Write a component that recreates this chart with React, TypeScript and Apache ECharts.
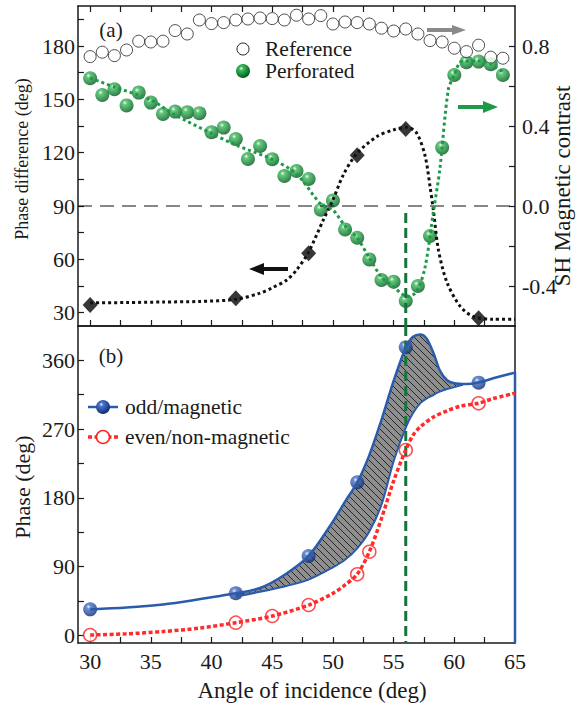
import React, { useEffect, useRef } from 'react';
import * as echarts from 'echarts';

const FONT = '"Liberation Serif", "Times New Roman", "DejaVu Serif", serif';
const INK = '#1a1a1a';

// ---------- panel (a) ----------
const angles = [30, 31, 32, 33, 34, 35, 36, 37, 38, 39, 40, 41, 42, 43, 44, 45, 46, 47, 48, 49, 50, 51, 52, 53, 54, 55, 56, 57, 58, 59, 60, 61, 62, 63, 64];
const referenceContrast = [0.747, 0.769, 0.752, 0.78, 0.824, 0.82, 0.824, 0.877, 0.86, 0.93, 0.912, 0.917, 0.93, 0.935, 0.94, 0.937, 0.93, 0.954, 0.935, 0.952, 0.91, 0.92, 0.917, 0.91, 0.889, 0.875, 0.885, 0.86, 0.827, 0.82, 0.789, 0.772, 0.804, 0.744, 0.739];
const perforatedContrast = [0.639, 0.555, 0.584, 0.503, 0.567, 0.517, 0.46, 0.472, 0.469, 0.464, 0.369, 0.392, 0.335, 0.235, 0.3, 0.234, 0.15, 0.175, 0.135, -0.019, 0.028, -0.117, -0.159, -0.267, -0.37, -0.379, -0.475, -0.4, -0.15, 0.292, 0.655, 0.719, 0.722, 0.709, 0.655];
const greenFitX = [30, 32, 35, 37, 40, 42, 45, 47, 49, 50, 51, 52, 53, 54, 55, 55.7, 56.1, 56.9, 57.6, 58.3, 58.8, 59.5, 60, 60.6, 62, 63, 64];
const greenFitY = [0.64, 0.595, 0.53, 0.455, 0.363, 0.305, 0.233, 0.16, 0.01, -0.02, -0.1, -0.159, -0.26, -0.355, -0.405, -0.44, -0.453, -0.428, -0.303, -0.02, 0.18, 0.58, 0.655, 0.722, 0.725, 0.71, 0.67];

const diamondAngles = [30, 42, 48, 52, 56, 62];
const phaseDifference = [34.3, 38.1, 63.4, 118.5, 133.3, 26.8];
const blackFitX = [30, 33, 36, 39, 42, 44, 45, 46.2, 47, 47.95, 49.2, 50, 50.85, 51.95, 53.6, 55, 56.1, 56.9, 57.6, 58, 58.27, 58.7, 59.4, 60.5, 61.6, 63.2, 65];
const blackFitY = [35.5, 35.7, 36, 36.3, 37.5, 41, 44, 48.4, 54, 63.5, 82, 93.4, 107.4, 119.3, 129, 132.8, 134.3, 131, 118, 101, 88, 65, 47, 33.4, 27.7, 26.3, 26.3];

// ---------- panel (b) ----------
const magAngles = [30, 42, 48, 52, 56, 62];
const oddPhase = [34.1, 55.1, 103.9, 200.4, 377.1, 330.8];
const evenAngles = [30, 42, 45, 48, 52, 53, 56, 62];
const evenPhase = [0.5, 16.6, 25.3, 39.7, 79.9, 109.5, 242.6, 303.8];

const oddCurveX = [30, 33, 36, 38.5, 42, 44, 46, 48, 50, 51, 52, 53, 54, 55, 56, 56.6, 57.2, 57.7, 58.3, 58.8, 59.4, 60, 61, 62, 63.2, 65];
const oddCurveY = [34, 36.5, 40.5, 46, 55, 62, 79, 104, 149, 175, 200, 236, 282, 333, 377, 391, 394, 389, 369, 347, 334, 330, 329, 331, 336.5, 344];
const hatchX = [42, 44, 46, 48, 50, 51, 52, 53, 54, 55, 56, 56.6, 57.2, 57.7, 58.3, 58.8, 59.4, 60, 60.7];
const hatchUpper = [55, 62, 79, 104, 149, 175, 200, 236, 282, 333, 377, 391, 394, 389, 369, 347, 334, 330, 329];
const hatchLower = [51, 57, 64, 73, 89, 99, 114, 136, 171, 228, 272, 291, 304, 310, 315, 319, 322.5, 325, 328];
const evenCurveX = [30, 33, 36, 39, 42, 45, 48, 50, 51, 52, 53, 54, 55, 56, 56.6, 57.2, 58.3, 59.4, 60.5, 62, 63.2, 65];
const evenCurveY = [0.5, 2, 5, 9.5, 16.6, 25.3, 39.7, 55, 66, 80, 109.5, 153, 202, 243, 262, 273, 286, 294, 300, 304, 310, 317];

// ---------- ticks ----------
const xTicks = [30, 32.5, 35, 37.5, 40, 42.5, 45, 47.5, 50, 52.5, 55, 57.5, 60, 62.5];
const xLabels = [30, 35, 40, 45, 50, 55, 60, 65];
const phaseDiffTicks = [30, 45, 60, 75, 90, 105, 120, 135, 150, 165, 180, 195];
const phaseDiffLabels = [30, 60, 90, 120, 150, 180];
const contrastTicks = [-0.4, -0.2, 0, 0.2, 0.4, 0.6, 0.8];
const contrastLabels = [-0.4, 0, 0.4, 0.8];
const phaseTicks = [0, 45, 90, 135, 180, 225, 270, 315, 360];
const phaseLabels = [0, 90, 180, 270, 360];

const zip = (xs: number[], ys: number[]) => xs.map((x, i) => [x, ys[i]]);

const greenBall = () =>
  new echarts.graphic.RadialGradient(0.38, 0.32, 0.68, [
    { offset: 0, color: '#f2fff2' },
    { offset: 0.22, color: '#3fb85c' },
    { offset: 0.7, color: '#148535' },
    { offset: 1, color: '#085520' },
  ]);
const blueBall = () =>
  new echarts.graphic.RadialGradient(0.38, 0.32, 0.68, [
    { offset: 0, color: '#eef2ff' },
    { offset: 0.22, color: '#4a72c8' },
    { offset: 0.7, color: '#24499a' },
    { offset: 1, color: '#122b66' },
  ]);

export default function App() {
  const ref = useRef<HTMLDivElement>(null);
  useEffect(() => {
    const chart = echarts.init(ref.current!, null, { renderer: 'svg' });

    const c = document.createElement('canvas');
    c.width = 7;
    c.height = 7;
    const g = c.getContext('2d')!;
    g.fillStyle = '#8e8e8e';
    g.fillRect(0, 0, 7, 7);
    g.strokeStyle = '#1c1c1c';
    g.lineWidth = 0.9;
    g.beginPath();
    g.moveTo(-1, -1);
    g.lineTo(8, 8);
    g.moveTo(6, -1);
    g.lineTo(8, 1);
    g.moveTo(-1, 6);
    g.lineTo(1, 8);
    g.stroke();
    const hatchPattern: any = { image: c, repeat: 'repeat', imageWidth: 7, imageHeight: 7 };

    const axisLine = { show: true, onZero: false, lineStyle: { color: INK, width: 1.5 } };
    const ticks = (vals: number[]) => ({
      show: true,
      inside: true,
      length: 6,
      lineStyle: { color: INK, width: 1.2 },
      customValues: vals,
    });
    const labelStyle = { fontFamily: FONT, fontSize: 22, color: INK };

    const option: any = {
      animation: false,
      backgroundColor: '#ffffff',
      grid: [
        { left: 78, top: 6, width: 437, height: 320 },
        { left: 78, top: 326, width: 437, height: 317 },
      ],
      xAxis: [
        { gridIndex: 0, type: 'value', min: 29, max: 65, position: 'bottom', axisLine, axisTick: ticks(xTicks), axisLabel: { show: false }, splitLine: { show: false } },
        { gridIndex: 0, type: 'value', min: 29, max: 65, position: 'top', axisLine, axisTick: ticks(xTicks), axisLabel: { show: false }, splitLine: { show: false } },
        { gridIndex: 1, type: 'value', min: 29, max: 65, position: 'bottom', axisLine, axisTick: ticks(xTicks), axisLabel: { ...labelStyle, margin: 7, customValues: xLabels }, splitLine: { show: false } },
        { gridIndex: 1, type: 'value', min: 29, max: 65, position: 'top', axisLine, axisTick: { show: false }, axisLabel: { show: false }, splitLine: { show: false } },
      ],
      yAxis: [
        { gridIndex: 0, type: 'value', min: 22.5, max: 202.5, position: 'left', axisLine, axisTick: ticks(phaseDiffTicks), axisLabel: { ...labelStyle, margin: 3, customValues: phaseDiffLabels }, splitLine: { show: false } },
        { gridIndex: 0, type: 'value', min: -0.6, max: 1.0, position: 'right', axisLine, axisTick: ticks(contrastTicks), axisLabel: { ...labelStyle, margin: 7, customValues: contrastLabels, formatter: (v: number) => v.toFixed(1) }, splitLine: { show: false } },
        { gridIndex: 1, type: 'value', min: -10, max: 405, position: 'left', axisLine, axisTick: ticks(phaseTicks), axisLabel: { ...labelStyle, margin: 3, customValues: phaseLabels }, splitLine: { show: false } },
        { gridIndex: 1, type: 'value', min: -10, max: 405, position: 'right', axisLine, axisTick: { show: false }, axisLabel: { show: false }, splitLine: { show: false } },
      ],
      series: [
        // ---- panel (a)
        {
          type: 'line', xAxisIndex: 0, yAxisIndex: 0, symbol: 'none', silent: true,
          data: [[29, 90], [65, 90]],
          lineStyle: { color: '#111', width: 1.2, type: [14, 8] },
        },
        {
          type: 'line', xAxisIndex: 0, yAxisIndex: 0, symbol: 'none', silent: true,
          data: [[56, 86], [56, 22.5]],
          lineStyle: { color: '#16743a', width: 3, type: [10, 5] },
        },
        {
          type: 'line', xAxisIndex: 0, yAxisIndex: 0, symbol: 'none', smooth: 0.3, silent: true,
          data: zip(blackFitX, blackFitY),
          lineStyle: { color: '#111', width: 3, type: [3, 3] },
        },
        {
          type: 'line', xAxisIndex: 0, yAxisIndex: 1, symbol: 'none', smooth: 0.3, silent: true,
          data: zip(greenFitX, greenFitY),
          lineStyle: { color: '#1c9a48', width: 3, type: [3, 3] },
        },
        {
          name: 'Phase difference', type: 'scatter', xAxisIndex: 0, yAxisIndex: 0,
          symbol: 'diamond', symbolSize: [15, 16],
          itemStyle: { color: '#050505' },
          data: zip(diamondAngles, phaseDifference),
        },
        {
          name: 'Perforated', type: 'scatter', xAxisIndex: 0, yAxisIndex: 1,
          symbol: 'circle', symbolSize: 14,
          itemStyle: { color: greenBall() },
          data: zip(angles, perforatedContrast),
        },
        {
          name: 'Reference', type: 'scatter', xAxisIndex: 0, yAxisIndex: 1,
          symbol: 'circle', symbolSize: 12,
          itemStyle: { color: '#ffffff', borderColor: '#222', borderWidth: 1 },
          data: zip(angles, referenceContrast),
        },
        // ---- panel (b)
        {
          type: 'custom', xAxisIndex: 2, yAxisIndex: 2, silent: true, z: 1,
          data: [[50, 100]],
          renderItem: (_p: any, api: any) => {
            const top = hatchX.map((x, i) => api.coord([x, hatchUpper[i]]));
            const bot = hatchX.map((x, i) => api.coord([x, hatchLower[i]])).reverse();
            return {
              type: 'polygon',
              shape: { points: top.concat(bot), smooth: 0.3 },
              style: { fill: hatchPattern, stroke: null },
            };
          },
        },
        {
          type: 'line', xAxisIndex: 2, yAxisIndex: 2, symbol: 'none', silent: true,
          data: [[56, 405], [56, -10]],
          lineStyle: { color: '#16743a', width: 3, type: [10, 5] },
        },
        {
          type: 'line', xAxisIndex: 2, yAxisIndex: 2, symbol: 'none', smooth: 0.3, silent: true,
          data: zip(hatchX, hatchLower),
          lineStyle: { color: '#2b5cab', width: 2 },
        },
        {
          type: 'line', xAxisIndex: 2, yAxisIndex: 2, symbol: 'none', smooth: 0.3, silent: true,
          data: zip(oddCurveX, oddCurveY),
          lineStyle: { color: '#2b5cab', width: 2.5 },
        },
        {
          type: 'line', xAxisIndex: 2, yAxisIndex: 2, symbol: 'none', silent: true,
          data: [[65, 344], [65, -10]],
          lineStyle: { color: '#2b5cab', width: 2.5 },
        },
        {
          type: 'line', xAxisIndex: 2, yAxisIndex: 2, symbol: 'none', smooth: 0.3, silent: true,
          data: zip(evenCurveX, evenCurveY),
          lineStyle: { color: '#ff2a2a', width: 3.5, type: [4, 2.5] },
        },
        {
          name: 'even/non-magnetic', type: 'scatter', xAxisIndex: 2, yAxisIndex: 2,
          symbol: 'circle', symbolSize: 13,
          itemStyle: { color: '#ffffff', borderColor: '#ff2020', borderWidth: 1.5 },
          data: zip(evenAngles, evenPhase),
        },
        {
          name: 'odd/magnetic', type: 'scatter', xAxisIndex: 2, yAxisIndex: 2,
          symbol: 'circle', symbolSize: 14,
          itemStyle: { color: blueBall() },
          data: zip(magAngles, oddPhase),
        },
      ],
      graphic: [
        // axis titles
        { type: 'text', x: 22, y: 159, rotation: Math.PI / 2, style: { text: 'Phase difference (deg)', font: `18px ${FONT}`, fill: INK, align: 'center', verticalAlign: 'middle' } },
        { type: 'text', x: 562, y: 186, rotation: Math.PI / 2, style: { text: 'SH Magnetic contrast', font: `23px ${FONT}`, fill: INK, align: 'center', verticalAlign: 'middle' } },
        { type: 'text', x: 22, y: 487, rotation: Math.PI / 2, style: { text: 'Phase (deg)', font: `22px ${FONT}`, fill: INK, align: 'center', verticalAlign: 'middle' } },
        { type: 'text', x: 312, y: 690, style: { text: 'Angle of incidence (deg)', font: `23px ${FONT}`, fill: INK, align: 'center', verticalAlign: 'middle' } },
        // panel labels
        { type: 'text', x: 111, y: 30, style: { text: '(a)', font: `21px ${FONT}`, fill: INK, align: 'center', verticalAlign: 'middle' } },
        { type: 'text', x: 111, y: 356, style: { text: '(b)', font: `21px ${FONT}`, fill: INK, align: 'center', verticalAlign: 'middle' } },
        // legend (a)
        { type: 'circle', shape: { cx: 243, cy: 49, r: 6 }, style: { fill: '#fff', stroke: '#222', lineWidth: 1 } },
        { type: 'text', x: 265, y: 49, style: { text: 'Reference', font: `21.5px ${FONT}`, fill: INK, align: 'left', verticalAlign: 'middle' } },
        { type: 'circle', shape: { cx: 243, cy: 71, r: 7 }, style: { fill: greenBall() } },
        { type: 'text', x: 265, y: 71, style: { text: 'Perforated', font: `21.5px ${FONT}`, fill: INK, align: 'left', verticalAlign: 'middle' } },
        // legend (b)
        { type: 'line', shape: { x1: 88, y1: 407, x2: 118, y2: 407 }, style: { stroke: '#2b5cab', lineWidth: 2.5 } },
        { type: 'circle', shape: { cx: 103, cy: 407, r: 7 }, style: { fill: blueBall() } },
        { type: 'text', x: 125, y: 407, style: { text: 'odd/magnetic', font: `21.5px ${FONT}`, fill: INK, align: 'left', verticalAlign: 'middle' } },
        { type: 'line', shape: { x1: 88, y1: 437, x2: 118, y2: 437 }, style: { stroke: '#ff2a2a', lineWidth: 3.5, lineDash: [4, 2.5] } },
        { type: 'circle', shape: { cx: 103, cy: 437, r: 6.5 }, style: { fill: '#fff', stroke: '#ff2020', lineWidth: 1.5 } },
        { type: 'text', x: 125, y: 437, style: { text: 'even/non-magnetic', font: `21.5px ${FONT}`, fill: INK, align: 'left', verticalAlign: 'middle' } },
        // arrows
        { type: 'polygon', shape: { points: [[427, 28], [452, 28], [452, 25], [466, 30], [452, 35], [452, 32], [427, 32]] }, style: { fill: '#8a8a8a' } },
        { type: 'polygon', shape: { points: [[458, 105], [483, 105], [483, 101], [498, 107], [483, 113], [483, 109], [458, 109]] }, style: { fill: '#1c9a48' } },
        { type: 'polygon', shape: { points: [[288, 267], [264, 267], [264, 263], [249, 269], [264, 275], [264, 271], [288, 271]] }, style: { fill: '#111' } },
      ],
    };

    chart.setOption(option);
    return () => chart.dispose();
  }, []);

  return (
    <div
      ref={ref}
      style={{ position: 'absolute', left: 0, top: 0, width: 582, height: 707, background: '#fff' }}
    />
  );
}
